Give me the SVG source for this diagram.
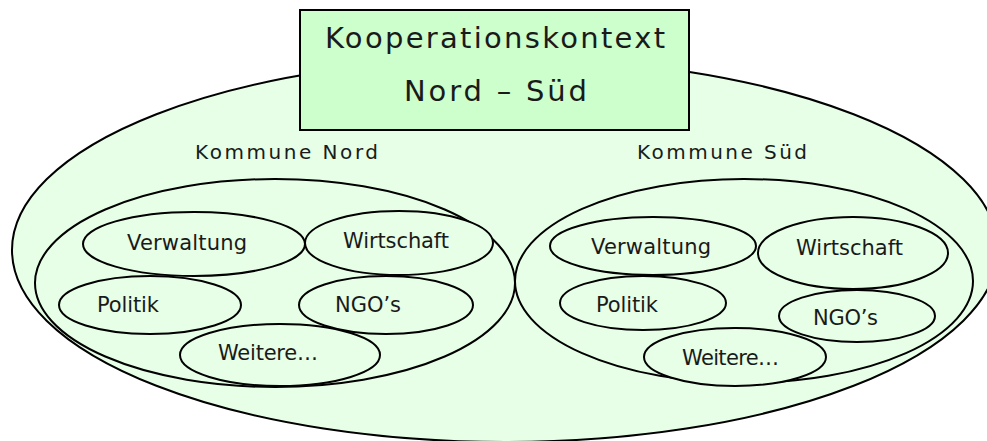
<svg xmlns="http://www.w3.org/2000/svg" width="987" height="441" viewBox="0 0 987 441">
<style>
.el{fill:#e6ffe6;stroke:#000;stroke-width:2}
.box{fill:#ccffcc;stroke:#000;stroke-width:2}
text{font-family:"DejaVu Sans","Liberation Sans",sans-serif;fill:#1a1a1a}
.t{font-size:29px}
.k{font-size:20px}
.s{font-size:21px}
</style>
<rect width="987" height="441" fill="#fff"/>
<g id="kontext">
<ellipse class="el" cx="505" cy="250" rx="493" ry="192"/>
</g>
<g id="titel">
<rect class="box" x="300" y="10" width="389" height="120"/>
<text class="t" x="325" y="48" textLength="340" lengthAdjust="spacing">Kooperationskontext</text>
<text class="t" x="404" y="101" textLength="183" lengthAdjust="spacing">Nord – Süd</text>
</g>
<g id="kommune-nord">
<text class="k" x="195" y="159" textLength="183" lengthAdjust="spacing">Kommune Nord</text>
<ellipse class="el" cx="275" cy="283" rx="240" ry="104"/>
</g>
<g id="kommune-sued">
<text class="k" x="637" y="159" textLength="170" lengthAdjust="spacing">Kommune Süd</text>
<ellipse class="el" cx="744" cy="281" rx="229" ry="102"/>
</g>
<g id="nord-verwaltung"><ellipse class="el" cx="194" cy="244" rx="111" ry="32"/><text class="s" x="127" y="250" textLength="120" lengthAdjust="spacing">Verwaltung</text></g>
<g id="nord-wirtschaft"><ellipse class="el" cx="399" cy="243" rx="94" ry="32"/><text class="s" x="343" y="248" textLength="106" lengthAdjust="spacing">Wirtschaft</text></g>
<g id="nord-politik"><ellipse class="el" cx="150" cy="305" rx="91" ry="29"/><text class="s" x="97" y="312" textLength="62" lengthAdjust="spacing">Politik</text></g>
<g id="nord-ngos"><ellipse class="el" cx="386" cy="305" rx="87" ry="29"/><text class="s" x="335" y="312" textLength="66" lengthAdjust="spacing">NGO’s</text></g>
<g id="nord-weitere"><ellipse class="el" cx="280" cy="355" rx="100" ry="31"/><text class="s" x="218" y="360" textLength="100" lengthAdjust="spacing">Weitere…</text></g>
<g id="sued-verwaltung"><ellipse class="el" cx="653" cy="246" rx="103" ry="29"/><text class="s" x="591" y="254" textLength="120" lengthAdjust="spacing">Verwaltung</text></g>
<g id="sued-wirtschaft"><ellipse class="el" cx="853" cy="253" rx="95" ry="36"/><text class="s" x="796" y="255" textLength="107" lengthAdjust="spacing">Wirtschaft</text></g>
<g id="sued-politik"><ellipse class="el" cx="643" cy="303" rx="83" ry="27"/><text class="s" x="596" y="312" textLength="62" lengthAdjust="spacing">Politik</text></g>
<g id="sued-ngos"><ellipse class="el" cx="857" cy="316" rx="78" ry="26"/><text class="s" x="813" y="325" textLength="65" lengthAdjust="spacing">NGO’s</text></g>
<g id="sued-weitere"><ellipse class="el" cx="735" cy="357" rx="91" ry="29"/><text class="s" x="682" y="365" textLength="97" lengthAdjust="spacing">Weitere…</text></g>
<g id="connectors"></g>
</svg>
